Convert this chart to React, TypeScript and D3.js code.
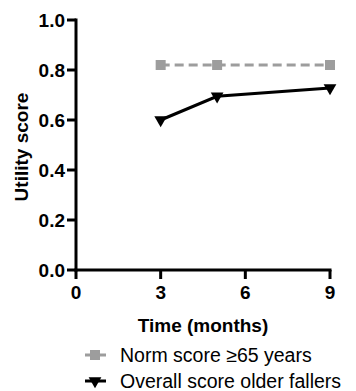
import React from "react";
import * as d3 from "d3";

const months = [3, 5, 9];
const normScore = [0.82, 0.82, 0.82];
const fallersScore = [0.6, 0.695, 0.728];
const xTicks = [0, 3, 6, 9];
const yTicks = [0, 0.2, 0.4, 0.6, 0.8, 1.0];
const seriesNames = ["Norm score \u226565 years", "Overall score older fallers"];

const W = 356;
const H = 391;
const margin = { top: 20, right: 26, bottom: 121, left: 76 };
const font = "'Liberation Sans', Arial, Helvetica, sans-serif";
const grey = "#9d9d9d";

const x = d3.scaleLinear().domain([0, 9]).range([margin.left, W - margin.right]);
const y = d3.scaleLinear().domain([0, 1]).range([H - margin.bottom, margin.top]);
const line = d3.line<[number, number]>().x((d) => x(d[0])).y((d) => y(d[1]));
const tri = d3.symbol().type(d3.symbolTriangle).size(70)() as string;

const App = () => {
  const normData: [number, number][] = months.map((m, i) => [m, normScore[i]]);
  const fallData: [number, number][] = months.map((m, i) => [m, fallersScore[i]]);
  const legendRows = [355, 381];

  return (
    <svg
      width={W}
      height={H}
      style={{ position: "absolute", left: 0, top: 0, display: "block" }}
      fontFamily={font}
    >
      {/* y axis */}
      <line x1={x(0)} x2={x(0)} y1={y(0) + 1.5} y2={y(1) - 1.5} stroke="#000" strokeWidth={3} />
      {yTicks.map((t) => (
        <g key={"y" + t} transform={`translate(${x(0)},${y(t)})`}>
          <line x1={-9} x2={0} stroke="#000" strokeWidth={3} />
          <text x={-11} dy="0.36em" textAnchor="end" fontSize={19} fontWeight="bold">
            {d3.format(".1f")(t)}
          </text>
        </g>
      ))}
      {/* x axis */}
      <line x1={x(0) - 1.5} x2={x(9) + 1.5} y1={y(0)} y2={y(0)} stroke="#000" strokeWidth={3} />
      {xTicks.map((t) => (
        <g key={"x" + t} transform={`translate(${x(t)},${y(0)})`}>
          <line y1={0} y2={9} stroke="#000" strokeWidth={3} />
          <text y={29} textAnchor="middle" fontSize={19} fontWeight="bold">
            {t}
          </text>
        </g>
      ))}
      {/* axis titles */}
      <text x={(x(0) + x(9)) / 2} y={332} textAnchor="middle" fontSize={19} fontWeight="bold">
        Time (months)
      </text>
      <text
        transform={`translate(28,${(y(0) + y(1)) / 2 + 2}) rotate(-90)`}
        textAnchor="middle"
        fontSize={19}
        fontWeight="bold"
      >
        Utility score
      </text>

      {/* norm series */}
      <path d={line(normData) || ""} fill="none" stroke={grey} strokeWidth={3} strokeDasharray="9,5" />
      {normData.map((d, i) => (
        <rect key={"n" + i} x={x(d[0]) - 5} y={y(d[1]) - 5} width={10} height={10} fill={grey} />
      ))}

      {/* fallers series */}
      <path d={line(fallData) || ""} fill="none" stroke="#000" strokeWidth={3} />
      {fallData.map((d, i) => (
        <path key={"f" + i} d={tri} transform={`translate(${x(d[0])},${y(d[1])}) rotate(180)`} fill="#000" />
      ))}

      {/* legend */}
      {seriesNames.map((name, i) => {
        const ly = legendRows[i];
        return (
          <g key={name}>
            <line x1={85} x2={106} y1={ly} y2={ly} stroke={i === 0 ? grey : "#000"} strokeWidth={3} />
            {i === 0 ? (
              <rect x={90} y={ly - 5} width={10} height={10} fill={grey} />
            ) : (
              <path d={tri} transform={`translate(95,${ly}) rotate(180)`} fill="#000" />
            )}
            <text x={120} y={ly + 7} fontSize={19.5}>
              {name}
            </text>
          </g>
        );
      })}
    </svg>
  );
};

export default App;
